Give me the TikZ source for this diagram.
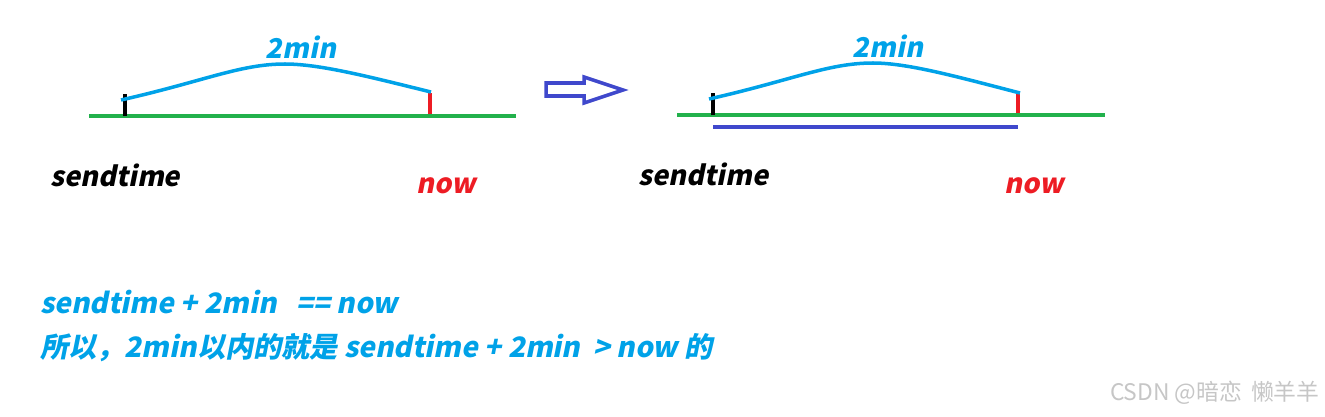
\documentclass[tikz,border=0pt]{standalone}
\usepackage{fontspec}
\usepackage{tikz}
\usetikzlibrary{
  arrows.meta,
  positioning
}
\newfontfamily\cjk[FakeSlant=0.2]{Noto Sans CJK SC}
\newfontfamily\cjkplain{Noto Sans CJK SC}
\definecolor{paintblue}{RGB}{0,162,232}
\definecolor{paintgreen}{RGB}{34,177,76}
\definecolor{paintred}{RGB}{237,28,36}
\definecolor{indigo}{RGB}{63,72,204}
\definecolor{wmgrey}{RGB}{198,198,198}

\begin{document}
\begin{tikzpicture}[x=0.02cm, y=-0.02cm,
  axis/.style={draw=paintgreen, line width=2pt},
  tick/.style={line width=2pt},
  span/.style={draw=paintblue, line width=2pt},
  lbl/.style={font=\cjk\bfseries\fontsize{15.5}{18}\selectfont, inner sep=0pt},
  note/.style={font=\cjk\bfseries\fontsize{16}{19}\selectfont, inner sep=0pt, text=paintblue, anchor=west}]
  \useasboundingbox (0,0) rectangle (1325,416);

  % left timeline
  \coordinate (lA) at (89,116);
  \coordinate (lB) at (516,116);
  \coordinate (lS) at (125,116);
  \coordinate (lN) at (430,114);
  \coordinate (lP) at (285,64);
  \draw[axis] (lA) -- (lB);
  \draw[tick, black] (lS) -- ++(0,-22) coordinate (lStop);
  \draw[tick, paintred] (lN) -- ++(0,-21) coordinate (lNtop);
  \draw[span] (121,100) coordinate (lC0) .. controls (205,81) and (240,64) .. (lP)
    .. controls (320,64) and (370,77) .. (431,92) coordinate (lC1);
  \node[lbl, text=paintblue] (lmin) at (301,47) {2min};
  \node[lbl, anchor=west] (lsend) at (50,175) {sendtime};
  \node[lbl, text=paintred] (lnow) at (446,186) {now};

  % arrow between the two
  \draw[indigo, line width=2pt, line join=miter]
    (546,83) -- (584,83) -- (584,77) -- (623,90) -- (584,103) -- (584,96) -- (546,96) -- cycle;

  % right timeline
  \coordinate (rA) at (677,115);
  \coordinate (rB) at (1105,115);
  \coordinate (rS) at (713,115);
  \coordinate (rN) at (1018,113);
  \coordinate (rP) at (873,63);
  \draw[axis] (rA) -- (rB);
  \draw[tick, black] (rS) -- ++(0,-22) coordinate (rStop);
  \draw[tick, paintred] (rN) -- ++(0,-21) coordinate (rNtop);
  \draw[span] (709,99) coordinate (rC0) .. controls (793,80) and (828,63) .. (rP)
    .. controls (908,63) and (958,77) .. (1020,93) coordinate (rC1);
  \draw[indigo, line width=2pt] (713,127) coordinate (rL) -- (1018,127) coordinate (rR);
  \node[lbl, text=paintblue] (rmin) at (888,46) {2min};
  \node[lbl, anchor=west] (rsend) at (638,174) {sendtime};
  \node[lbl, text=paintred] (rnow) at (1034,186) {now};

  % explanation
  \node[note] (eq) at (40,302) {sendtime\ + 2min\ \ \ == now};
  \node[note] (gt) at (40,348) {所以，2min以内的就是 sendtime\ + 2min\ \ > now 的};

  \node[font=\cjkplain\fontsize{13}{15}\selectfont, text=wmgrey, anchor=east, inner sep=0pt] (wm) at (1320,393) {CSDN\ @暗恋\,\ 懒羊羊};
\end{tikzpicture}
\end{document}
